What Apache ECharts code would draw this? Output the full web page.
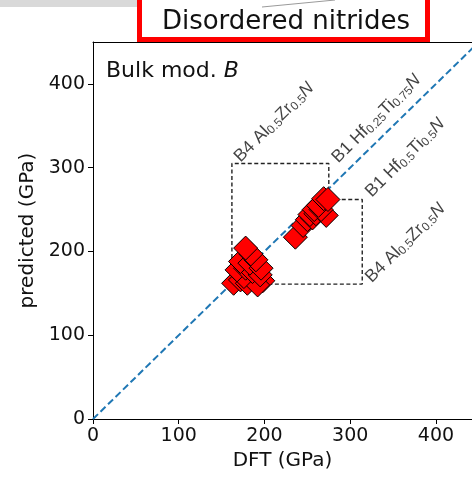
<!DOCTYPE html>
<html>
<head>
<meta charset="utf-8">
<script src="https://cdn.jsdelivr.net/npm/echarts@6/dist/echarts.min.js"></script>
<style>html,body{margin:0;padding:0;background:#fff;}#c{width:472px;height:485px;}</style>
</head>
<body>
<div id="c"></div>
<script>
// ---- data ----
const axisTicks = [0, 100, 200, 300, 400];
const xMax = 442;
const yMax = 450;
const diagonal = [[0, 0], [450, 450]];
// B4 Al0.5Zr0.5N cluster (DFT, predicted)
const clusterLow = [
  [164, 162], [172, 166], [180, 162], [188, 166], [198, 165], [192, 160], [176, 170],
  [168, 178], [178, 180], [186, 176], [195, 172], [172, 188], [183, 186], [196, 180],
  [190, 190], [184, 197], [178, 204]
];
// B1 Hf-Ti-N cluster
const clusterHigh = [
  [236, 217], [245, 231], [250, 238], [256, 240], [253, 244], [260, 245], [272, 243],
  [258, 250], [266, 250], [263, 255], [269, 263], [274, 262]
];
// dashed outline around the two regions
const outline = [[162, 161], [162, 305], [275, 305], [275, 262], [314, 262], [314, 161], [162, 161]];
// rotated annotation labels: anchor (DFT, predicted) and text
const annoAnchors = [[176, 302], [290, 301], [329, 260], [329, 158]];
const annoTexts = [
  'B4 Al{s|0.5}Zr{s|0.5}{i|N}',
  'B1 Hf{s|0.25}Ti{s|0.75}{i|N}',
  'B1 Hf{s|0.5}Ti{s|0.5}{i|N}',
  'B4 Al{s|0.5}Zr{s|0.5}{i|N}'
];
const titleText = 'Disordered nitrides';
const panelText = 'Bulk mod. {i|B}';
const xName = 'DFT (GPa)';
const yName = 'predicted (GPa)';

const chart = echarts.init(document.getElementById('c'), null, {renderer: 'canvas'});
const FONT = 'DejaVu Sans';
const axisCommon = {
  type: 'value', min: 0, interval: 100,
  axisLine: {show: true, onZero: false, lineStyle: {color: '#000', width: 1}},
  axisTick: {show: true, length: 5, lineStyle: {color: '#000'}},
  splitLine: {show: false},
  axisLabel: {color: '#111', fontFamily: FONT, fontSize: 19, showMaxLabel: false,
    formatter: v => axisTicks.includes(v) ? String(v) : ''},
  nameLocation: 'middle',
  nameTextStyle: {color: '#111', fontFamily: FONT, fontSize: 20}
};
const richSub = {
  s: {fontSize: 12, fontFamily: 'Liberation Sans', color: '#111', verticalAlign: 'bottom', padding: [7, 0, 0, 0]},
  i: {fontSize: 17.5, fontFamily: 'Liberation Sans', fontStyle: 'italic', color: '#111'}
};
chart.setOption({
  animation: false,
  backgroundColor: '#fff',
  grid: {left: 93, top: 42, right: 0, bottom: 66, show: false, containLabel: false},
  xAxis: [
    Object.assign({}, axisCommon, {max: xMax, name: xName, nameGap: 30}),
    {type: 'value', position: 'top', min: 0, max: xMax, axisLine: {show: true, onZero: false, lineStyle: {color: '#000', width: 1}},
      axisTick: {show: false}, axisLabel: {show: false}, splitLine: {show: false}}
  ],
  yAxis: Object.assign({}, axisCommon, {max: yMax, name: yName, nameGap: 52}),
  series: [
    {type: 'line', data: outline, symbol: 'none', silent: true, z: 1,
      lineStyle: {color: '#222', width: 1.4, type: [4, 2.5]}},
    {type: 'line', data: diagonal, symbol: 'none', silent: true, z: 2,
      lineStyle: {color: '#1f77b4', width: 2, type: [7, 3.5]}},
    {type: 'scatter', data: clusterLow, symbol: 'diamond', symbolSize: 24, z: 3,
      itemStyle: {color: '#ff0000', borderColor: '#000', borderWidth: 1, opacity: 1}},
    {type: 'scatter', data: clusterHigh, symbol: 'diamond', symbolSize: 24, z: 3,
      itemStyle: {color: '#ff0000', borderColor: '#000', borderWidth: 1, opacity: 1}},
    {type: 'scatter', symbolSize: 0, silent: true, z: 4,
      data: annoAnchors.map((p, k) => ({value: p, label: {formatter: annoTexts[k]}})),
      label: {show: true, position: 'inside', align: 'left', verticalAlign: 'bottom', rotate: 45,
        fontFamily: 'Liberation Sans', fontSize: 17.5, color: '#111', rich: richSub}}
  ],
  graphic: [
    {type: 'rect', shape: {x: 0, y: 0, width: 137, height: 7}, style: {fill: '#d9d9d9'}, z: 10},
    {type: 'line', shape: {x1: 262, y1: 7, x2: 335, y2: 0}, style: {stroke: '#9a9a9a', lineWidth: 1}, z: 10},
    {type: 'rect', shape: {x: 139.5, y: -10, width: 288, height: 49.5},
      style: {fill: 'rgba(0,0,0,0)', stroke: '#ff0000', lineWidth: 5}, z: 11},
    {type: 'text', x: 286, y: 22, z: 11,
      style: {text: titleText, fontFamily: FONT, fontSize: 26, fill: '#111', textAlign: 'center', textVerticalAlign: 'middle'}},
    {type: 'text', x: 106, y: 71, z: 11,
      style: {text: panelText, fontFamily: FONT, fontSize: 22, fill: '#111', textAlign: 'left', textVerticalAlign: 'middle',
        rich: {i: {fontFamily: FONT, fontSize: 22, fontStyle: 'italic', fill: '#111'}}}}
  ]
});
</script>
</body>
</html>
